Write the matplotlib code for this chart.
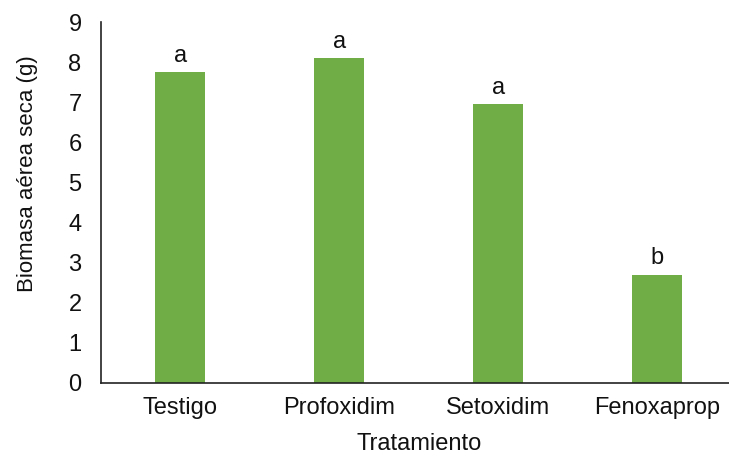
import matplotlib
matplotlib.use("Agg")
from matplotlib import pyplot as plt

tratamientos = ["Testigo", "Profoxidim", "Setoxidim", "Fenoxaprop"]
biomasa = [7.75, 8.1, 6.95, 2.7]
letras = ["a", "a", "a", "b"]

plt.rcParams['font.family'] = ['Liberation Sans', 'DejaVu Sans']

fig = plt.figure(figsize=(7.29, 4.58), dpi=100)
ax = fig.add_axes([0.1385, 0.1638, 0.872, 0.788])

x = range(len(tratamientos))
bars = ax.bar(x, biomasa, width=0.315, color="#70AD47")
for b, l in zip(bars, letras):
    ax.annotate(l, (b.get_x() + b.get_width() / 2, b.get_height()),
                xytext=(0, 4), textcoords="offset points",
                ha="center", va="bottom", fontsize=17, color="#111111")

ax.set_xlim(-0.5, 3.5)
ax.set_ylim(0, 9)
ax.set_yticks(range(10))
ax.set_xticks(list(x))
ax.set_xticklabels(tratamientos)
ax.tick_params(length=0, labelsize=17, colors="#111111", pad=10)
ax.tick_params(axis="y", pad=14)
ax.set_xlabel("Tratamiento", fontsize=17, color="#111111", labelpad=10)
ax.set_ylabel("Biomasa aérea seca (g)", fontsize=16, color="#111111", va="center")
ax.yaxis.set_label_coords(-0.115, 0.58)

for s in ["top", "right"]:
    ax.spines[s].set_visible(False)
for s in ["left", "bottom"]:
    ax.spines[s].set_color("#222222")
    ax.spines[s].set_linewidth(1.2)

fig.savefig("out.png", dpi=100)
